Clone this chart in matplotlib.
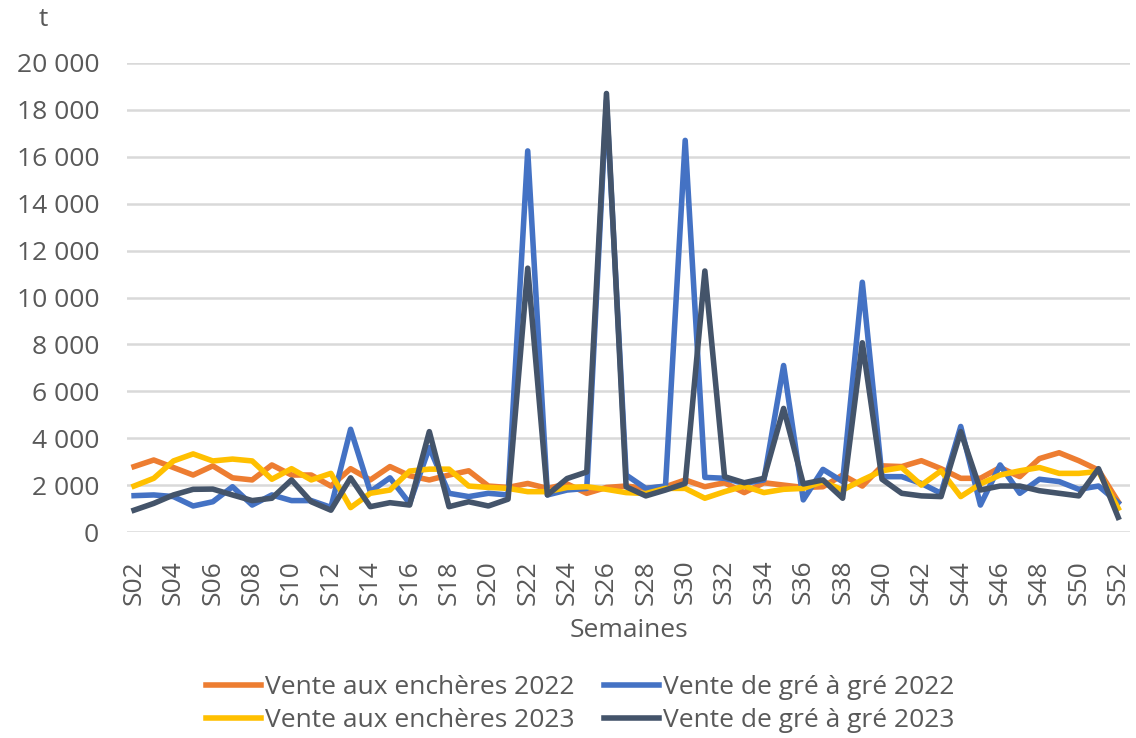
import numpy as np
import matplotlib.pyplot as plt

plt.rcParams['font.family'] = ['Open Sans', 'DejaVu Sans']

# semaines S02 .. S52
semaines = ['S%02d' % k for k in range(2, 53)]

encheres_2022 = [2790, 3070, 2750, 2430, 2820, 2310, 2220, 2860, 2430, 2430,
                 1960, 2700, 2220, 2790, 2400, 2220, 2430, 2610, 1960, 1900,
                 2070, 1860, 2050, 1650, 1900, 1960, 1860, 1930, 2220, 1930,
                 2100, 1680, 2100, 2000, 1900, 1930, 2430, 1960, 2820, 2790,
                 3040, 2700, 2290, 2290, 2750, 2360, 3130, 3380, 3040, 2640,
                 1290]
gre_2022 = [1550, 1580, 1510, 1110, 1290, 1930, 1150, 1580, 1340, 1340,
            1050, 4380, 1720, 2310, 1220, 3600, 1650, 1510, 1650, 1580,
            16250, 1580, 1790, 1860, 18400, 2430, 1860, 1960, 16700, 2330,
            2290, 2070, 2220, 7100, 1370, 2670, 2150, 10650, 2360, 2360,
            2070, 1650, 4500, 1150, 2860, 1650, 2250, 2150, 1820, 1960,
            1250]
encheres_2023 = [1960, 2290, 3030, 3330, 3030, 3110, 3030, 2250, 2700, 2220,
                 2500, 1040, 1650, 1790, 2600, 2680, 2680, 1960, 1900, 1860,
                 1720, 1720, 1900, 1930, 1820, 1680, 1640, 1860, 1860, 1440,
                 1720, 1960, 1680, 1820, 1860, 2150, 1790, 2220, 2610, 2750,
                 2000, 2610, 1510, 2050, 2430, 2610, 2750, 2500, 2500, 2580,
                 1010]
gre_2023 = [930, 1220, 1580, 1820, 1830, 1580, 1340, 1440, 2220, 1290,
            930, 2310, 1080, 1250, 1150, 4280, 1080, 1290, 1110, 1400,
            11250, 1580, 2280, 2560, 18700, 1930, 1540, 1790, 2070, 11130,
            2360, 2100, 2290, 5270, 2050, 2220, 1440, 8070, 2250, 1650,
            1540, 1510, 4280, 1790, 1960, 1960, 1760, 1650, 1540, 2700,
            625]

grey = '#595959'
fs = 19
x = np.arange(len(semaines))

fig = plt.figure(figsize=(11.36, 7.38), dpi=100)
ax = fig.add_axes([127 / 1136, 1 - 532 / 738, 1003 / 1136, 469 / 738])

lw = 4
l1, = ax.plot(x, encheres_2022, color='#ED7D31', lw=lw, label='Vente aux enchères 2022')
l2, = ax.plot(x, gre_2022, color='#4472C4', lw=lw, label='Vente de gré à gré 2022')
l3, = ax.plot(x, encheres_2023, color='#FFC000', lw=lw, label='Vente aux enchères 2023')
l4, = ax.plot(x, gre_2023, color='#44546A', lw=lw, label='Vente de gré à gré 2023')

ax.set_xlim(-0.36, 50.6)
ax.set_ylim(0, 20000)
ax.set_yticks(range(0, 20001, 2000))
ax.set_yticklabels([f'{v:,}'.replace(',', ' ') for v in range(0, 20001, 2000)])
ax.set_xticks(x[::2])
ax.set_xticklabels(semaines[::2], rotation=90)
ax.tick_params(axis='both', length=0, labelsize=fs, colors=grey)
ax.tick_params(axis='y', pad=20)
ax.tick_params(axis='x', pad=20)
ax.grid(axis='y', color='#D9D9D9', lw=1.8)
ax.set_axisbelow(True)
for s in ax.spines.values():
    s.set_visible(False)

ax.set_xlabel('Semaines', fontsize=fs, color=grey, labelpad=10)
fig.text(43 / 1136, 1 - 20 / 738, 't', fontsize=fs, color=grey, ha='center', va='center')

fig.legend(handles=[l1, l3, l2, l4], ncol=2, loc='center', bbox_to_anchor=(580 / 1136, 1 - 704 / 738),
           frameon=False, fontsize=fs, labelcolor=grey, handlelength=2.1, handletextpad=0.15,
           columnspacing=1.1, labelspacing=0.3, borderpad=0.2)

plt.savefig('out.png')
